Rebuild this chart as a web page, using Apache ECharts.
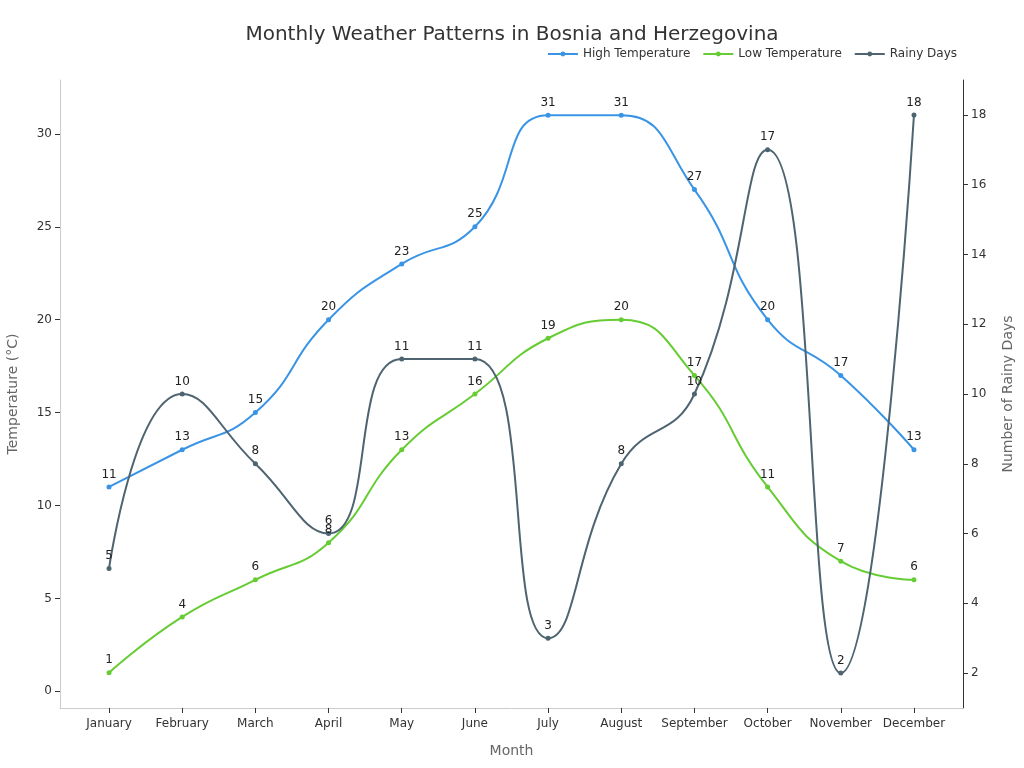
<!DOCTYPE html>
<html>
<head>
<meta charset="utf-8">
<script src="https://cdn.jsdelivr.net/npm/echarts@6/dist/echarts.min.js"></script>
<style>
  html, body { margin: 0; padding: 0; background: #fff; }
  #chart { width: 1024px; height: 768px; }
</style>
</head>
<body>
<div id="chart"></div>
<script>
  const months = ['January', 'February', 'March', 'April', 'May', 'June', 'July', 'August', 'September', 'October', 'November', 'December']
  const highTemp = [11, 13, 15, 20, 23, 25, 31, 31, 27, 20, 17, 13]
  const lowTemp = [1, 4, 6, 8, 13, 16, 19, 20, 17, 11, 7, 6]
  const rainyDays = [5, 10, 8, 6, 11, 11, 3, 8, 10, 17, 2, 18]
  const tempTicks = [0, 5, 10, 15, 20, 25, 30]
  const rainTicks = [2, 4, 6, 8, 10, 12, 14, 16, 18]
  const monthTicks = months.map((m, i) => i)

  const chart = echarts.init(document.getElementById('chart'))
  const fontFamily = 'DejaVu Sans'

  function lineSeries (name, data, color, yAxisIndex) {
    return {
      name: name,
      type: 'line',
      yAxisIndex: yAxisIndex,
      data: data.map((v, i) => [i, v]),
      smooth: true,
      symbol: 'circle',
      symbolSize: 5,
      itemStyle: { color: color },
      lineStyle: { color: color, width: 2 },
      label: {
        show: true,
        position: 'top',
        color: '#222',
        fontSize: 12,
        fontFamily: fontFamily,
        distance: 4,
        formatter: p => p.value[1]
      },
      animation: false
    }
  }

  chart.setOption({
    textStyle: { fontFamily: fontFamily },
    title: {
      text: 'Monthly Weather Patterns in Bosnia and Herzegovina',
      left: 'center',
      top: 20,
      textStyle: { fontSize: 20, fontWeight: 'normal', color: '#333', fontFamily: fontFamily }
    },
    legend: {
      right: 62,
      top: 43,
      itemWidth: 30,
      itemHeight: 6,
      itemGap: 12,
      textStyle: { fontSize: 12, color: '#333', fontFamily: fontFamily },
      data: ['High Temperature', 'Low Temperature', 'Rainy Days']
    },
    grid: { left: 60, right: 61, top: 80, bottom: 60, outerBoundsMode: 'none' },
    xAxis: {
      type: 'value',
      min: -0.67,
      max: 11.67,
      name: 'Month',
      nameLocation: 'middle',
      nameGap: 36,
      nameTextStyle: { fontSize: 14, color: '#666' },
      splitLine: { show: false },
      axisLine: { onZero: false, lineStyle: { color: '#ccc' } },
      axisTick: { show: true, customValues: monthTicks, lineStyle: { color: '#333' } },
      axisLabel: { color: '#333', fontSize: 12, margin: 10, customValues: monthTicks, formatter: v => months[v] }
    },
    yAxis: [{
      type: 'value',
      min: -0.9,
      max: 32.9,
      name: 'Temperature (°C)',
      nameLocation: 'middle',
      nameGap: 40,
      nameTextStyle: { fontSize: 14, color: '#666' },
      axisLine: { show: true, onZero: false, lineStyle: { color: '#ccc' } },
      axisTick: { show: true, customValues: tempTicks, lineStyle: { color: '#333' } },
      axisLabel: { color: '#333', fontSize: 12, customValues: tempTicks },
      splitLine: { show: false }
    }, {
      type: 'value',
      min: 1,
      max: 19,
      name: 'Number of Rainy Days',
      nameLocation: 'middle',
      nameGap: 38,
      nameTextStyle: { fontSize: 14, color: '#666' },
      axisLine: { show: true, onZero: false, lineStyle: { color: '#333' } },
      axisTick: { show: true, customValues: rainTicks, lineStyle: { color: '#333' } },
      axisLabel: { color: '#333', fontSize: 12, customValues: rainTicks },
      splitLine: { show: false }
    }],
    series: [
      lineSeries('High Temperature', highTemp, '#3a94e6', 0),
      lineSeries('Low Temperature', lowTemp, '#66cc33', 0),
      lineSeries('Rainy Days', rainyDays, '#4e6470', 1)
    ]
  })
</script>
</body>
</html>
